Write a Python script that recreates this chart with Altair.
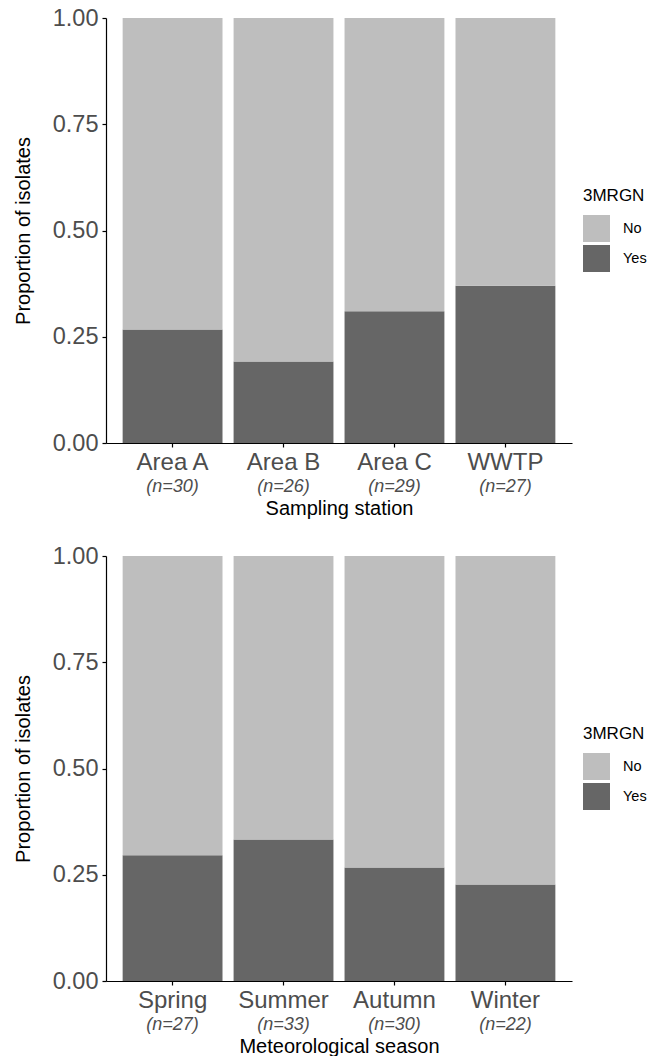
import altair as alt
import pandas as pd

# ---- data ----
stations = ["Area A", "Area B", "Area C", "WWTP"]
station_n = [30, 26, 29, 27]
station_yes = [0.267, 0.192, 0.310, 0.370]

seasons = ["Spring", "Summer", "Autumn", "Winter"]
season_n = [27, 33, 30, 22]
season_yes = [0.296, 0.333, 0.267, 0.227]

groups = ["No", "Yes"]
colors = ["#BEBEBE", "#666666"]
y_ticks = [0, 0.25, 0.5, 0.75, 1]

FONT = "Liberation Sans"
W, H = 466, 425


def make_df(cats, ns, yes):
    rows = []
    for c, n, y in zip(cats, ns, yes):
        rows.append({"cat": c, "grp": "Yes", "prop": y, "ord": 0})
        rows.append({"cat": c, "grp": "No", "prop": 1 - y, "ord": 1})
    return pd.DataFrame(rows)


def panel(cats, ns, yes, xtitle):
    df = make_df(cats, ns, yes)
    xscale = alt.Scale(paddingInner=0.1, paddingOuter=0.15)
    xaxis = alt.Axis(
        labelAngle=0, labelFontSize=24, labelColor="#4D4D4D", labelPadding=3,
        tickSize=4, tickColor="black", domainColor="black", domainWidth=1.2,
        tickWidth=1.2, titleFontSize=20, titleColor="black",
        titleFontWeight="normal", titlePadding=24, labelFont=FONT, titleFont=FONT,
    )
    bars = alt.Chart(df).mark_bar().encode(
        x=alt.X("cat:N", sort=cats, title=xtitle, scale=xscale, axis=xaxis),
        y=alt.Y(
            "prop:Q", stack="zero",
            scale=alt.Scale(domain=[0, 1], nice=False, zero=True),
            title="Proportion of isolates",
            axis=alt.Axis(
                values=y_ticks, format=".2f", labelFontSize=23.5, labelColor="#4D4D4D",
                labelPadding=4, tickSize=4, tickColor="black", domainColor="black",
                domainWidth=1.2, tickWidth=1.2, titleFontSize=20, titleColor="black",
                titleFontWeight="normal", titlePadding=19, labelFont=FONT, titleFont=FONT,
            ),
        ),
        color=alt.Color(
            "grp:N",
            scale=alt.Scale(domain=groups, range=colors),
            legend=alt.Legend(
                title="3MRGN", orient="none", legendX=477, legendY=170,
                titleFontSize=17, titleFontWeight="normal", titleColor="black",
                titleFont=FONT, labelFont=FONT, labelFontSize=14.5, labelColor="black",
                symbolType="square", symbolSize=729, symbolStrokeWidth=0,
                symbolOpacity=1, labelOffset=13, rowPadding=3, titlePadding=10, padding=0,
            ),
        ),
        order=alt.Order("ord:Q"),
    )
    ndf = pd.DataFrame({"cat": cats, "nlab": [f"(n={n})" for n in ns]})
    nl = alt.Chart(ndf).mark_text(
        fontStyle="italic", fontSize=18, color="#4D4D4D", baseline="middle", font=FONT
    ).encode(
        x=alt.X("cat:N", sort=cats, title=xtitle, scale=xscale, axis=xaxis),
        y=alt.value(H + 44),
        text="nlab:N",
    )
    return alt.layer(bars, nl).properties(width=W, height=H)


top = panel(stations, station_n, station_yes, "Sampling station")
bottom = panel(seasons, season_n, season_yes, "Meteorological season")

chart = (
    alt.vconcat(top, bottom, spacing=26)
    .resolve_legend(color="independent")
    .properties(padding={"left": 13, "top": 6, "right": 0, "bottom": 0})
    .configure_view(stroke=None)
    .configure_axis(grid=False)
)

chart.save("out.html", embed_options={"renderer": "svg", "actions": False})
